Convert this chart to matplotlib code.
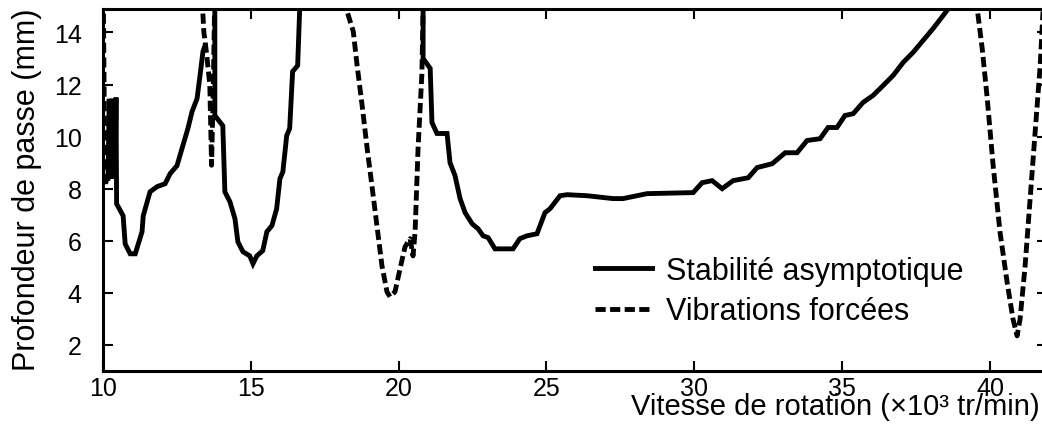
import matplotlib
matplotlib.use("Agg")
import matplotlib.pyplot as plt

plt.rcParams['font.family'] = ['Liberation Sans', 'DejaVu Sans']

# Stabilite asymptotique (trait plein), trois branches
stab1_x = [10.18, 10.22, 10.26, 10.30, 10.34, 10.38, 10.42, 10.45, 10.47, 10.69, 10.76, 10.93, 11.10,
           11.33, 11.37, 11.60, 11.84, 12.11, 12.28, 12.51, 12.68, 12.88, 13.02, 13.19, 13.29, 13.39, 13.46]
stab1_y = [8.4, 11.45, 8.4, 11.45, 8.4, 11.45, 8.4, 11.5, 7.42, 6.96, 5.88, 5.5, 5.5,
           6.35, 6.96, 7.88, 8.08, 8.19, 8.58, 8.88, 9.54, 10.31, 10.96, 11.46, 12.35, 13.27, 13.5]

stab2_x = [13.79, 13.79, 14.06, 14.13, 14.30, 14.47, 14.57, 14.74, 14.97, 15.08, 15.21, 15.41, 15.55,
           15.72, 15.88, 15.99, 16.09, 16.22, 16.32, 16.42, 16.59, 16.66, 16.68]
stab2_y = [15.5, 10.81, 10.42, 7.88, 7.5, 6.85, 5.96, 5.58, 5.42, 5.12, 5.42, 5.62, 6.35,
           6.58, 7.23, 8.38, 8.65, 10.04, 10.31, 12.5, 12.73, 14.92, 15.5]

stab3_x = [20.83, 20.83, 21.07, 21.13, 21.30, 21.64, 21.74, 21.91, 22.08, 22.25, 22.49, 22.69, 22.86,
           23.03, 23.26, 23.87, 24.10, 24.34, 24.68, 24.95, 25.12, 25.46, 25.70, 26.37, 27.25, 27.59,
           28.40, 29.96, 30.26, 30.60, 30.94, 31.31, 31.82, 32.12, 32.63, 33.07, 33.47, 33.81, 34.25,
           34.52, 34.82, 35.09, 35.37, 35.70, 36.04, 36.38, 36.72, 37.06, 37.39, 37.73, 38.07, 38.41,
           38.64, 38.85]
stab3_y = [15.5, 13.0, 12.62, 10.54, 10.12, 10.12, 9.0, 8.5, 7.62, 7.08, 6.65, 6.46, 6.19,
           6.12, 5.69, 5.69, 6.08, 6.19, 6.27, 7.08, 7.23, 7.73, 7.77, 7.73, 7.62, 7.62,
           7.81, 7.85, 8.23, 8.31, 8.0, 8.31, 8.42, 8.81, 8.96, 9.38, 9.38, 9.85, 9.92,
           10.35, 10.35, 10.81, 10.88, 11.31, 11.58, 11.96, 12.35, 12.85, 13.23, 13.69, 14.15, 14.65,
           15.0, 15.5]

# Vibrations forcees (pointilles), quatre branches
vib1_x = [10.02, 10.05, 10.08, 10.14]
vib1_y = [15.5, 11.5, 8.1, 8.4]

vib2_x = [13.35, 13.42, 13.50, 13.62, 13.68, 13.74, 13.79]
vib2_y = [15.5, 14.0, 13.3, 12.0, 8.9, 12.0, 15.5]

vib3_x = [18.20, 18.23, 18.47, 18.60, 18.77, 18.94, 19.10, 19.27, 19.44, 19.61, 19.71, 19.88, 20.05,
          20.22, 20.39, 20.49, 20.56, 20.66, 20.79, 20.83, 20.85]
vib3_y = [15.5, 14.92, 14.04, 12.73, 11.19, 9.54, 8.12, 6.58, 5.04, 4.04, 3.85, 4.04, 4.92,
          5.77, 6.08, 5.42, 6.35, 9.54, 12.42, 14.92, 15.5]

vib4_x = [39.52, 39.56, 39.73, 39.90, 40.10, 40.33, 40.57, 40.77, 40.91, 41.01, 41.18, 41.35, 41.52,
          41.69, 41.79, 41.82]
vib4_y = [15.5, 14.92, 13.38, 11.46, 8.88, 6.35, 4.42, 3.0, 2.35, 3.0, 5.04, 7.62, 10.19,
          12.73, 14.92, 15.5]

xticks = [10, 15, 20, 25, 30, 35, 40]
yticks = [2, 4, 6, 8, 10, 12, 14]

W, H = 1042, 435
fig = plt.figure(figsize=(W / 100, H / 100), dpi=100)
ax = fig.add_axes([102.7 / W, 1 - 372 / H, (1047 - 102.7) / W, (372 - 10) / H])

lw = 3.5
dash = (0, (2.1, 0.9))
for vx, vy in [(vib1_x, vib1_y), (vib2_x, vib2_y), (vib3_x, vib3_y), (vib4_x, vib4_y)]:
    hv, = ax.plot(vx, vy, color='black', lw=lw, linestyle=dash, dash_capstyle='butt')
for sx, sy in [(stab1_x, stab1_y), (stab2_x, stab2_y), (stab3_x, stab3_y)]:
    hs, = ax.plot(sx, sy, color='black', lw=lw, solid_joinstyle='miter')

ax.set_xlim(10, 41.92)
ax.set_ylim(1, 14.9)
ax.set_xticks(xticks)
ax.set_yticks(yticks)

for s in ax.spines.values():
    s.set_linewidth(2.2)
ax.tick_params(direction='in', length=7, width=1.5, top=True, right=True, labelsize=18)
ax.tick_params(axis='x', pad=3.5)
ax.tick_params(axis='y', pad=15)

fig.text(27 / W, 1 - 190 / H, 'Profondeur de passe (mm)', rotation=90,
         ha='center', va='center', fontsize=22)
fig.text(1040 / W, 1 - 415 / H, 'Vitesse de rotation (×10³ tr/min)',
         ha='right', va='baseline', fontsize=21)

fig.legend([hs, hv], ['Stabilité asymptotique', 'Vibrations forcées'],
           loc='center left', bbox_to_anchor=(595 / W, 1 - 292 / H),
           frameon=False, fontsize=22, handlelength=1.86, handletextpad=0.45,
           labelspacing=0.35, borderpad=0, borderaxespad=0)

fig.savefig('out.png', dpi=100, facecolor='white')
